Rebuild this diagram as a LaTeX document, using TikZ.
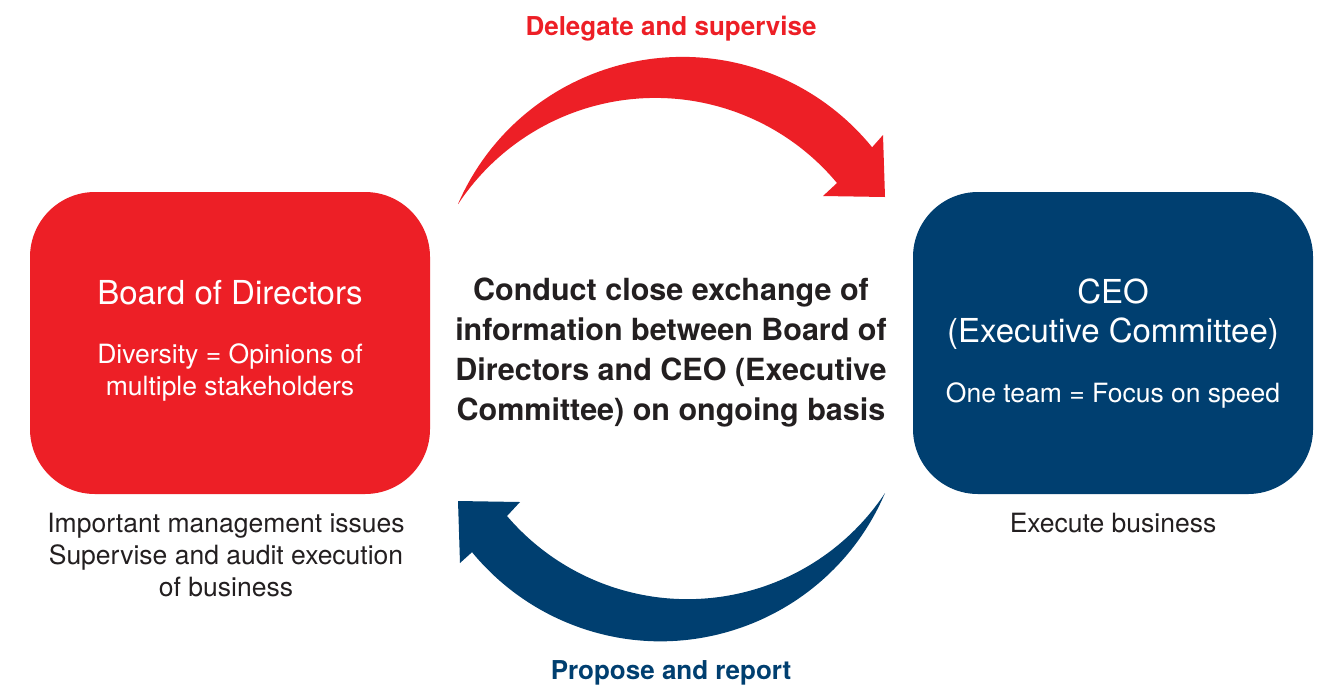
\documentclass[tikz,border=0pt]{standalone}
\usepackage{fontspec}
\setmainfont{TeX Gyre Heros}
\definecolor{redc}{HTML}{ED1F26}
\definecolor{bluec}{HTML}{003F70}
\definecolor{textc}{HTML}{231F20}
\begin{document}
\begin{tikzpicture}[x=1pt,y=-1pt,
  boxshape/.style={minimum width=400pt, minimum height=302pt, rounded corners=65pt, inner sep=0pt, draw=none},
  titletxt/.style={anchor=base, inner sep=0pt, text=white, font=\fontsize{33}{39}\selectfont},
  bodywhite/.style={anchor=base, inner sep=0pt, text=white, font=\fontsize{26.5}{32}\selectfont},
  bodytxt/.style={anchor=base, inner sep=0pt, text=textc, font=\fontsize{26.5}{32}\selectfont},
  centertxt/.style={anchor=base, inner sep=0pt, text=textc, font=\fontsize{30.5}{40}\selectfont\bfseries},
  labeltxt/.style={anchor=base, inner sep=0pt, font=\fontsize{26}{32}\selectfont\bfseries}]
\useasboundingbox (0,0) rectangle (1329,689);
\fill[white] (0,0) rectangle (1329,689);

% boxes
\node[boxshape, fill=redc] (board) at (230,343) {};
\node[boxshape, fill=bluec] (ceo) at (1113,343) {};

% arrows
\fill[redc] (458,204) arc[start angle=-156.5, end angle=-39.1, radius=244.6]
  -- (883,135) -- (885,197) -- (823,196) -- (837,183)
  arc[start angle=-39.8, end angle=-146.6, radius=236.4] -- cycle;
\fill[bluec] (885,493) arc[start angle=23.1, end angle=140.6, radius=244]
  -- (460,563) -- (458,501) -- (520,502) -- (507,516)
  arc[start angle=139.5, end angle=33.6, radius=237.2] -- cycle;

% box texts
\node[titletxt] (bt) at (230,304) {Board of Directors};
\node[bodywhite] (b1) at (230,363) {Diversity = Opinions of};
\node[bodywhite] (b2) at (230,395) {multiple stakeholders};
\node[titletxt] (ct1) at (1113,303) {CEO};
\node[titletxt] (ct2) at (1113,342) {(Executive Committee)};
\node[bodywhite] (c1) at (1113,402) {One team = Focus on speed};

% centre text
\node[centertxt] (m1) at (671,300) {Conduct close exchange of};
\node[centertxt] (m2) at (671,340) {information between Board of};
\node[centertxt] (m3) at (671,380) {Directors and CEO (Executive};
\node[centertxt] (m4) at (671,420) {Committee) on ongoing basis};

% labels
\node[labeltxt, text=redc] (del) at (671,35) {Delegate and supervise};
\node[labeltxt, text=bluec] (pro) at (671,679) {Propose and report};

% under-box texts
\node[bodytxt] (u1) at (226,532) {Important management issues};
\node[bodytxt] (u2) at (226,564) {Supervise and audit execution};
\node[bodytxt] (u3) at (226,596) {of business};
\node[bodytxt] (e1) at (1113,532) {Execute business};
\end{tikzpicture}
\end{document}
